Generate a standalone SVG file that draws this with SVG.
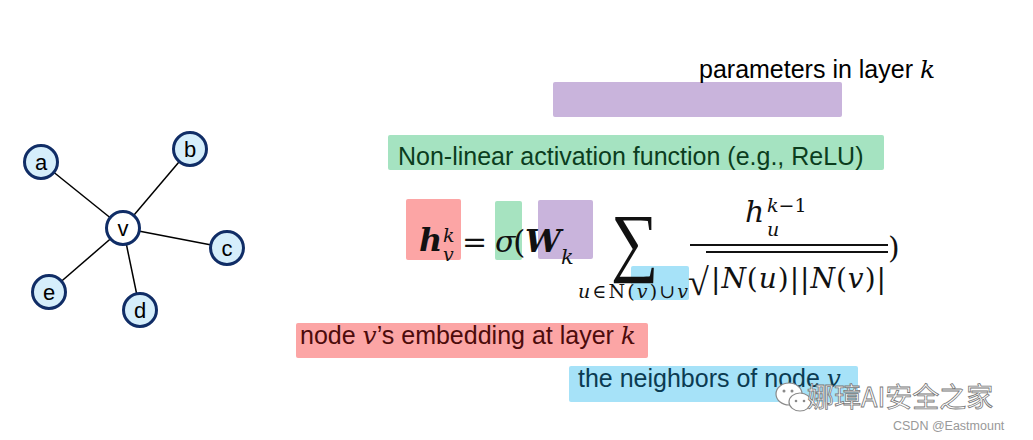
<svg xmlns="http://www.w3.org/2000/svg" width="1033" height="440" viewBox="0 0 1033 440">
<style>
.edge{stroke:#000;stroke-width:1.5}
.nc{fill:#d5eefb;stroke:#102d66;stroke-width:3}
.nv{fill:#fff;stroke:#102d66;stroke-width:3}
.nl{font-family:"Liberation Sans",Arial,sans-serif;font-size:22px;fill:#000;text-anchor:middle}
.lbl{font-family:"Liberation Sans",Arial,sans-serif;font-size:25px}
.m{font-family:"DejaVu Serif","Liberation Serif",serif;fill:#111}
.i{font-style:italic}
.b{font-weight:bold}
.mi{font-family:"DejaVu Serif","Liberation Serif",serif;font-style:italic}
</style>
<rect width="1033" height="440" fill="#fff"/>
<g id="connectors">
<line class="edge" x1="123" y1="228" x2="41" y2="162"/>
<line class="edge" x1="123" y1="228" x2="190" y2="149"/>
<line class="edge" x1="123" y1="228" x2="227" y2="248"/>
<line class="edge" x1="123" y1="228" x2="140" y2="310"/>
<line class="edge" x1="123" y1="228" x2="49" y2="292"/>
</g>
<g id="node-a"><circle class="nc" cx="41" cy="162" r="16.5"/><text class="nl" x="41" y="170">a</text></g>
<g id="node-b"><circle class="nc" cx="190" cy="149" r="16.5"/><text class="nl" x="190" y="157">b</text></g>
<g id="node-c"><circle class="nc" cx="227" cy="248" r="16.5"/><text class="nl" x="227" y="256">c</text></g>
<g id="node-d"><circle class="nc" cx="140" cy="310" r="16.5"/><text class="nl" x="140" y="318">d</text></g>
<g id="node-e"><circle class="nc" cx="49" cy="292" r="16.5"/><text class="nl" x="49" y="300">e</text></g>
<g id="node-v"><circle class="nv" cx="123" cy="228" r="16.5"/><text class="nl" x="123" y="236">v</text></g>

<g id="label-params">
<rect x="553" y="82" width="289" height="35" rx="2" fill="#c9b4dc"/>
<text class="lbl" x="699" y="78" fill="#000">parameters in layer <tspan class="mi">k</tspan></text>
</g>
<g id="label-activation">
<rect x="388" y="135" width="496" height="35" rx="2" fill="#a5e3c1"/>
<text class="lbl" x="398" y="165" fill="#0b3d1d">Non-linear activation function (e.g., ReLU)</text>
</g>

<g id="formula">
<rect x="406" y="199" width="55" height="61" rx="2" fill="#fca5a5"/>
<rect x="495" y="201" width="27" height="59" rx="2" fill="#a6e3c0"/>
<rect x="538" y="200" width="55" height="59" rx="2" fill="#c9b4dc"/>
<rect x="631" y="266" width="58" height="34" rx="2" fill="#a6e2f8"/>
<text class="m i b" x="419" y="251" font-size="32">h</text>
<text class="m i" x="443" y="242" font-size="19">k</text>
<text class="m i" x="443" y="261" font-size="19">v</text>
<text class="m" x="462" y="252" font-size="30">=</text>
<text class="m i" x="495" y="252" font-size="30">σ</text>
<text class="m" x="513" y="253" font-size="32">(</text>
<text class="m i b" x="525" y="252" font-size="32">W</text>
<text class="m i" x="561" y="264" font-size="21">k</text>
<text x="0" y="0" font-family="'Liberation Serif',serif" font-size="76" fill="#111" transform="translate(611,267) scale(0.88,1)">∑</text>
<text class="m" x="578" y="298" font-size="19" textLength="110" lengthAdjust="spacing"><tspan class="i">u</tspan>∈N(<tspan class="i">v</tspan>)∪<tspan class="i">v</tspan></text>
<text class="m i" x="745" y="222" font-size="30">h</text>
<text class="m" x="767" y="212" font-size="19"><tspan class="i">k</tspan>−1</text>
<text class="m i" x="767" y="236" font-size="19">u</text>
<line x1="690" y1="245" x2="888" y2="245" stroke="#111" stroke-width="2"/>
<text x="688" y="295" font-family="'Liberation Serif',serif" font-size="38" fill="#111">√</text>
<line x1="706" y1="252" x2="888" y2="252" stroke="#111" stroke-width="2"/>
<text class="m" x="711" y="288" font-size="28" textLength="175" lengthAdjust="spacing">|<tspan class="i">N</tspan>(<tspan class="i">u</tspan>)||<tspan class="i">N</tspan>(<tspan class="i">v</tspan>)|</text>
<text class="m" x="888" y="258" font-size="30">)</text>
</g>

<g id="label-embedding">
<rect x="296" y="323" width="352" height="35" rx="2" fill="#fca5a5"/>
<text class="lbl" x="300" y="344" fill="#4d0b0b">node <tspan class="mi">v</tspan>’s embedding at layer <tspan class="mi">k</tspan></text>
</g>
<g id="label-neighbors">
<rect x="569" y="366" width="289" height="36" rx="2" fill="#a6e2f8"/>
<text class="lbl" x="578" y="387" fill="#0b3b52">the neighbors of node <tspan class="mi">v</tspan></text>
</g>

<g id="watermark">
<ellipse cx="789" cy="394" rx="13" ry="11" fill="#fff" stroke="#8a8a8a" stroke-width="1.2"/>
<ellipse cx="800" cy="402" rx="11" ry="9" fill="#fff" stroke="#8a8a8a" stroke-width="1.2"/>
<circle cx="784" cy="391" r="1.5" fill="#8a8a8a"/><circle cx="792" cy="391" r="1.5" fill="#8a8a8a"/>
<circle cx="796" cy="401" r="1.3" fill="#8a8a8a"/><circle cx="804" cy="401" r="1.3" fill="#8a8a8a"/>
<text x="807" y="407" font-family="'Noto Sans CJK SC','Liberation Sans',sans-serif" font-size="27" fill="#fff" stroke="#777" stroke-width="0.8">娜璋AI安全之家</text>
<text x="893" y="430" font-family="'Liberation Sans',Arial,sans-serif" font-size="12.5" fill="#999">CSDN @Eastmount</text>
</g>
</svg>
